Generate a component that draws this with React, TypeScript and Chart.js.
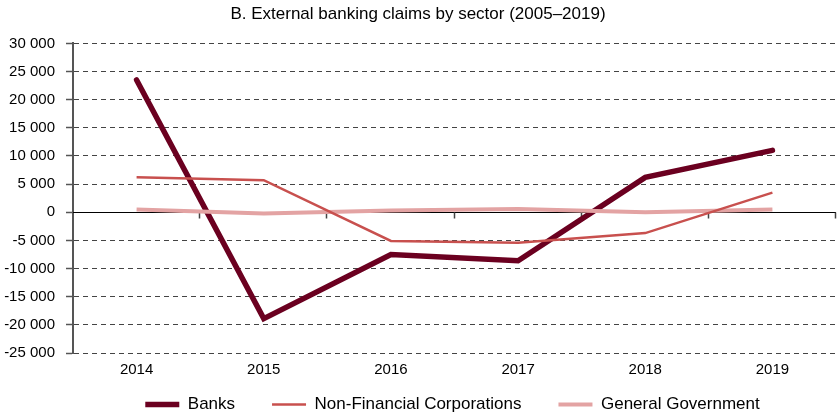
import React, { useEffect, useRef } from "react";
import { Chart, registerables } from "chart.js";

Chart.register(...registerables);

const years = ["2014", "2015", "2016", "2017", "2018", "2019"];
const banks = [23500, -18900, -7500, -8600, 6200, 11000];
const nonFinancial = [6200, 5700, -5100, -5400, -3700, 3500];
const generalGov = [500, -200, 300, 600, 0, 500];

const FONT = "Arial, 'Liberation Sans', sans-serif";

const fmt = (v: number) => {
  const s = Math.abs(v).toString().replace(/\B(?=(\d{3})+(?!\d))/g, " ");
  return (v < 0 ? "-" : "") + s;
};

const zeroLinePlugin = {
  id: "zeroLine",
  beforeDatasetsDraw(chart: any) {
    const { ctx, chartArea, scales } = chart;
    const y0 = Math.round(scales.y.getPixelForValue(0)) + 0.5;
    ctx.save();
    ctx.strokeStyle = "#000";
    ctx.lineWidth = 1;
    ctx.setLineDash([]);
    ctx.beginPath();
    ctx.moveTo(chartArea.left, y0);
    ctx.lineTo(chartArea.right, y0);
    ctx.stroke();
    ctx.strokeStyle = "#444";
    ctx.lineWidth = 1.5;
    ctx.beginPath();
    const n = years.length;
    const w = (chartArea.right - chartArea.left) / n;
    for (let i = 1; i <= n; i++) {
      const px = Math.round(chartArea.left + w * i) - 0.5;
      ctx.moveTo(px, y0);
      ctx.lineTo(px, y0 + 6);
    }
    ctx.stroke();
    ctx.restore();
  },
};

const legendShiftPlugin = {
  id: "legendShift",
  afterLayout(chart: any) {
    const l = chart.legend;
    if (!l) return;
    const shift = 18;
    l.top -= shift;
    l.bottom -= shift;
    const a = chart.chartArea;
    l.left = a.left - 2;
    l.right = a.right - 2;
    l.width = l.right - l.left;
  },
};

export default function App() {
  const ref = useRef<HTMLCanvasElement>(null);
  useEffect(() => {
    document.body.style.margin = "0";
    const chart = new Chart(ref.current!, {
      type: "line",
      data: {
        labels: years,
        datasets: [
          {
            label: "Banks",
            data: banks,
            borderColor: "#6b0020",
            backgroundColor: "#6b0020",
            borderWidth: 5.5,
            pointRadius: 0,
            borderCapStyle: "round",
            tension: 0,
            order: 3,
          },
          {
            label: "Non-Financial Corporations",
            data: nonFinancial,
            borderColor: "#c8504e",
            backgroundColor: "#c8504e",
            borderWidth: 2.5,
            pointRadius: 0,
            tension: 0,
            order: 1,
          },
          {
            label: "General Government",
            data: generalGov,
            borderColor: "#e3a3a3",
            backgroundColor: "#e3a3a3",
            borderWidth: 4,
            pointRadius: 0,
            tension: 0,
            order: 2,
          },
        ],
      },
      options: {
        responsive: false,
        animation: false,
        layout: { padding: { left: 0, right: 2, top: 0, bottom: -23 } },
        plugins: {
          title: {
            display: true,
            text: "B. External banking claims by sector (2005\u20132019)",
            color: "#000",
            font: { family: FONT, size: 17, weight: "normal" },
            padding: { top: 4, bottom: 19 },
          },
          legend: {
            position: "bottom",
            labels: {
              usePointStyle: true,
              pointStyle: "line",
              pointStyleWidth: 34,
              color: "#000",
              font: { family: FONT, size: 17 },
              padding: 37,
              sort: (a: any, b: any) => a.datasetIndex - b.datasetIndex,
            },
          },
          tooltip: { enabled: false },
        },
        scales: {
          x: {
            offset: true,
            grid: { display: false },
            border: { display: false },
            ticks: {
              color: "#000",
              font: { family: FONT, size: 15 },
              padding: 0,
            },
            afterFit(scale: any) {
              scale.height = 24;
            },
          },
          y: {
            min: -25000,
            max: 30000,
            ticks: {
              stepSize: 5000,
              color: "#000",
              font: { family: FONT, size: 15 },
              padding: 11,
              callback: (v: any) => fmt(Number(v)),
            },
            grid: {
              color: "#444",
              lineWidth: 1,
              tickLength: 7,
              tickBorderDash: [],
              tickColor: "#555",
              tickWidth: 1.5,
            },
            border: { display: true, color: "#555", width: 2, dash: [5, 4] },
            afterFit(scale: any) {
              scale.width = 73;
            },
          },
        },
      },
      plugins: [zeroLinePlugin, legendShiftPlugin],
    } as any);
    return () => chart.destroy();
  }, []);
  return <canvas ref={ref} width={838} height={418} />;
}
